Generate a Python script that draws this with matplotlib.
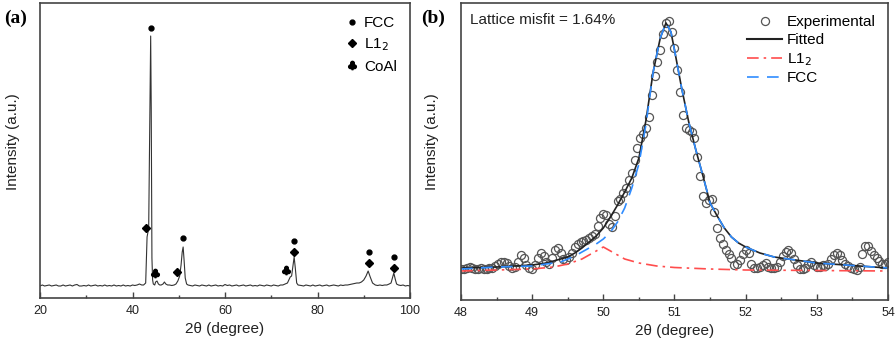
import numpy as np
import matplotlib
matplotlib.use("Agg")
import matplotlib.pyplot as plt
from matplotlib.lines import Line2D
from matplotlib.ticker import MultipleLocator

plt.rcParams['font.family'] = ['Liberation Sans', 'DejaVu Sans']

## (a) XRD pattern
xrd_x = [20.0, 20.5, 21.0, 21.5, 22.0, 22.5, 23.0, 23.5, 24.0, 24.5, 25.0, 25.5, 26.0, 26.5, 27.0, 27.5,
         28.0, 28.5, 29.0, 29.5, 30.0, 30.5, 31.0, 31.5, 32.0, 32.5, 33.0, 33.5, 34.0, 34.5, 35.0, 35.5,
         36.0, 36.5, 37.0, 37.5, 38.0, 38.5, 39.0, 39.5, 40.0, 40.5, 41.0, 41.5, 42.0, 42.4, 42.85, 43.0,
         43.15, 43.5, 43.8, 43.93, 44.05, 44.2, 44.35, 44.5, 44.8, 45.0, 45.3, 45.6, 45.9, 46.2, 46.6,
         46.9, 47.2, 47.6, 48.0, 48.5, 49.0, 49.4, 49.8, 50.2, 50.5, 50.75, 50.95, 51.15, 51.4, 51.7,
         52.0, 52.5, 53.0, 53.5, 54.0, 54.5, 55.0, 55.5, 56.0, 56.5, 57.0, 57.5, 58.0, 58.5, 59.0, 59.5,
         60.0, 60.5, 61.0, 61.5, 62.0, 62.5, 63.0, 63.5, 64.0, 64.5, 65.0, 65.5, 66.0, 66.5, 67.0, 67.5,
         68.0, 68.5, 69.0, 69.5, 70.0, 70.5, 71.0, 71.5, 72.0, 72.5, 73.0, 73.5, 73.8, 74.1, 74.4, 74.7,
         74.95, 75.2, 75.5, 75.8, 76.5, 77.0, 77.5, 78.0, 78.5, 79.0, 79.5, 80.0, 80.5, 81.0, 81.5, 82.0,
         82.5, 83.0, 83.5, 84.0, 84.5, 85.0, 85.5, 86.0, 86.5, 87.0, 87.5, 88.0, 88.5, 89.0, 89.5, 90.0,
         90.5, 90.95, 91.4, 91.9, 92.5, 93.0, 93.5, 94.0, 94.5, 95.0, 95.5, 95.9, 96.2, 96.5, 96.8, 97.1,
         97.5, 98.0, 98.5, 99.0, 99.5, 100.0]
xrd_y = [12, 13, 12, 12.5, 13, 12, 12.5, 13, 12, 12, 13, 12, 12.5, 13, 12, 13,
         13.5, 12, 12, 12.5, 12, 13, 12, 12.5, 13, 12, 12.5, 12, 13, 12, 12.5, 12,
         13, 12, 12.5, 12, 13, 12, 12.5, 12, 13, 12.5, 13, 14, 13, 13, 15, 38,
         61, 70, 200, 262, 190, 40, 18, 14, 13, 16, 17, 14, 13, 13, 14,
         16, 14, 13, 13, 12.5, 13, 14, 17, 22, 33, 46, 51, 38, 20, 14,
         13, 12.5, 12, 13, 12.5, 12, 13, 12.5, 12, 13, 12, 12.5, 13, 12, 12.5, 12,
         13.5, 12.5, 13, 12, 12.5, 13, 12, 12.5, 13, 12, 12.5, 13, 12, 12.5, 12, 13,
         12.5, 12, 13, 12.5, 12, 13, 12.5, 12, 13, 13, 14, 15, 18, 21, 22, 32,
         41, 30, 15, 13, 12.5, 12, 13, 12.5, 12, 13, 12, 12.5, 13, 12, 12.5, 13,
         12, 12.5, 13, 12.5, 12, 13, 12.5, 13, 13, 13.5, 14, 14.5, 15, 15, 16, 18,
         22, 27, 21, 15, 13, 12.5, 13, 12.5, 13, 13, 14, 15, 20, 25, 19, 14,
         13, 12.5, 13, 12, 12.5, 12]

fcc_x = [43.93, 50.99, 74.92, 91.14, 96.6]
fcc_y = [270, 60, 57, 46, 41]
l12_x = [42.92, 49.69, 74.92, 91.14, 96.6]
l12_y = [70, 26, 46, 35, 30]
coal_x = [44.86, 73.19]
coal_y = [25, 28]

## (b) peak fit around 51 deg
exp_start, exp_step = 48.0, 0.04
exp_y = [31, 31, 32, 33, 32, 31, 31, 32, 31, 31, 32, 32, 34, 36, 38, 38, 37, 34, 32, 33,
         38, 45, 42, 35, 32, 31, 35, 42, 47, 44, 38, 36, 42, 50, 52, 47, 41, 40, 43, 47,
         53, 56, 58, 59, 60, 62, 64, 66, 74, 82, 86, 85, 76, 73, 84, 99, 101, 107, 112, 120,
         127, 140, 152, 162, 166, 172, 183, 205, 224, 238, 250, 266, 277, 279, 268, 252, 230, 208, 185, 172,
         170, 168, 162, 143, 124, 104, 97, 100, 101, 88, 72, 62, 56, 50, 46, 42, 35, 36, 40, 46,
         50, 47, 36, 32, 32, 33, 35, 37, 33, 32, 32, 33, 38, 44, 48, 50, 47, 41, 35, 31,
         31, 32, 36, 38, 35, 33, 33, 35, 34, 36, 41, 45, 47, 45, 40, 36, 34, 32, 31, 30,
         33, 46, 54, 54, 49, 45, 42, 39, 36, 36, 38]
exp_x = exp_start + exp_step * np.arange(len(exp_y))

fit_x = [48.0, 48.5, 49.0, 49.2, 49.4, 49.5, 49.6, 49.7, 49.8, 49.9, 50.0, 50.1, 50.2, 50.3, 50.4,
         50.5, 50.6, 50.7, 50.8, 50.88, 50.95, 51.0, 51.1, 51.2, 51.3, 51.4, 51.5, 51.6, 51.7, 51.8,
         51.9, 52.0, 52.2, 52.4, 52.7, 53.0, 53.4, 54.0]
fit_y = [32, 33, 35, 37, 41, 43, 47, 52, 58, 64, 72, 83, 95, 108, 122,
         142, 180, 228, 262, 277, 268, 250, 212, 178, 150, 124, 97, 84, 72, 63,
         57, 53, 47, 43, 40, 37, 35, 32]
fcc_fit_y = [31, 33, 34, 36, 38, 41, 44, 48, 52, 56, 61, 68, 78, 92, 112,
             136, 176, 228, 262, 277, 268, 250, 212, 178, 150, 124, 97, 84, 72, 63,
             57, 53, 47, 43, 40, 37, 35, 32]
l12_fit_x = [48.0, 48.5, 49.0, 49.3, 49.5, 49.7, 49.85, 50.0, 50.15, 50.3, 50.5, 50.75, 51.0,
             51.5, 52.0, 53.0, 54.0]
l12_fit_y = [29, 30, 31, 33, 36, 41, 47, 53, 47, 41, 37, 34, 32.5, 31, 30, 29.5, 29]

fig = plt.figure(figsize=(8.96, 3.46), dpi=100)
ax1 = fig.add_axes([40/896, 48/346, 370/896, 295/346])
ax2 = fig.add_axes([461/896, 46/346, 427/896, 297/346])

frame = '#444444'
for ax in (ax1, ax2):
    for s in ax.spines.values():
        s.set_color(frame)
        s.set_linewidth(1.2)
    ax.set_yticks([])
    ax.tick_params(axis='x', direction='in', length=4, width=1, colors=frame,
                   labelcolor='#222222', labelsize=9, pad=5)
    ax.tick_params(axis='x', which='minor', direction='in', length=2.5, width=1, colors=frame)
    ax.set_xlabel('2θ (degree)', fontsize=11, color='#222222', labelpad=4)

## (a)
ax1.plot(xrd_x, xrd_y, color='#333333', lw=0.8)
ax1.plot(fcc_x, fcc_y, 'o', color='black', ms=3.5, ls='none')
ax1.plot(l12_x, l12_y, 'D', color='black', ms=4, ls='none')
ax1.plot(coal_x, coal_y, marker='$\u2663$', color='black', ms=6, ls='none')
ax1.set_xlim(20, 100)
ax1.set_ylim(0, 295)
ax1.xaxis.set_major_locator(MultipleLocator(20))
ax1.xaxis.set_minor_locator(MultipleLocator(10))
h1 = [Line2D([], [], marker='o', color='black', ms=3.5, ls='none'),
      Line2D([], [], marker='D', color='black', ms=4, ls='none'),
      Line2D([], [], marker='$\u2663$', color='black', ms=6, ls='none')]
ax1.legend(h1, ['FCC', 'L1$_2$', 'CoAl'], loc='upper right', frameon=False, fontsize=11,
           handlelength=0.8, handletextpad=0.4, labelspacing=0.42, borderaxespad=0.45)

## (b)
ax2.plot(exp_x, exp_y, 'o', mfc='none', mec='#555555', ms=5.8, mew=0.9, ls='none')
ax2.plot(fit_x, fit_y, color='#222222', lw=1.2)
ax2.plot(l12_fit_x, l12_fit_y, color='#ff4d4d', lw=1.2, ls=(0, (7, 3, 1.5, 3)))
ax2.plot(fit_x, fcc_fit_y, color='#2f8cff', lw=1.2, ls=(0, (7, 5)))
ax2.set_xlim(48, 54)
ax2.set_ylim(0, 297)
ax2.xaxis.set_major_locator(MultipleLocator(1))
ax2.xaxis.set_minor_locator(MultipleLocator(0.5))
ax2.text(0.02, 0.965, 'Lattice misfit = 1.64%', transform=ax2.transAxes, fontsize=11,
         color='#222222', va='top', ha='left')
h2 = [Line2D([], [], marker='o', mfc='none', mec='#555555', ms=5.8, mew=0.9, ls='none'),
      Line2D([], [], color='#222222', lw=1.5),
      Line2D([], [], color='#ff4d4d', lw=1.2, ls=(0, (7, 3, 1.5, 3))),
      Line2D([], [], color='#2f8cff', lw=1.2, ls=(0, (7, 5)))]
ax2.legend(h2, ['Experimental', 'Fitted', 'L1$_2$', 'FCC'], loc='upper right', frameon=False,
           fontsize=11, handlelength=2.3, handletextpad=0.3, labelspacing=0.25, borderaxespad=0.4)

for x in (13/896, 432/896):
    fig.text(x, 0.59, 'Intensity (a.u.)', rotation=90, ha='center', va='center',
             fontsize=11, color='#222222')
fig.text(4/896, 1 - 18/346, '(a)', fontsize=14, fontweight='bold', family='Liberation Serif',
         ha='left', va='center')
fig.text(421/896, 1 - 18/346, '(b)', fontsize=14, fontweight='bold', family='Liberation Serif',
         ha='left', va='center')

fig.savefig('out.png', dpi=100)
